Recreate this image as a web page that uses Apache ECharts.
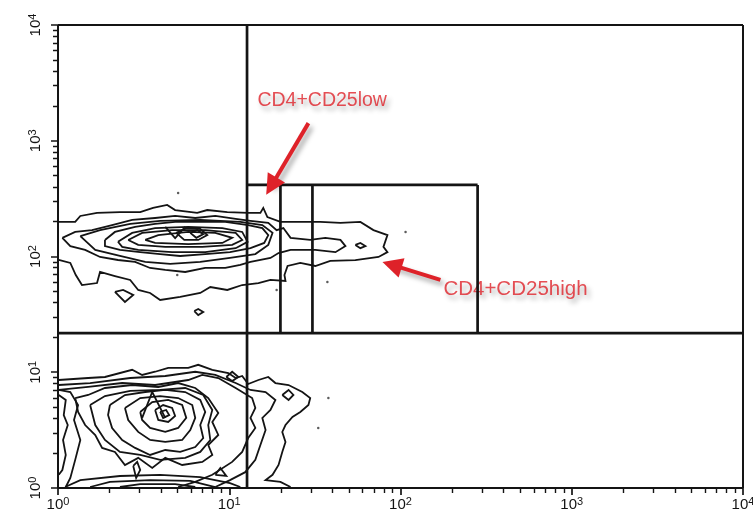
<!DOCTYPE html>
<html>
<head>
<meta charset="utf-8">
<script src="https://cdn.jsdelivr.net/npm/echarts@6/dist/echarts.min.js"></script>
<style>
  html, body { margin: 0; padding: 0; background: #ffffff; }
  #chart { width: 753px; height: 514px; background: #ffffff; }
</style>
</head>
<body>
<div id="chart"></div>
<script>
// Axis decades (log10 scale) and the exponents printed on them
const decadeTicks = [1, 10, 100, 1000, 10000];
const decadeExponents = ['0', '1', '2', '3', '4'];
const minorTicks = [2, 3, 4, 5, 6, 7, 8, 9, 20, 30, 40, 50, 60, 70, 80, 90,
  200, 300, 400, 500, 600, 700, 800, 900, 2000, 3000, 4000, 5000, 6000, 7000, 8000, 9000];

// Quadrant split and CD25 gates (x: CD25, y: CD4)
const quadX = 12.7;
const quadY = 21.8;
const gateTop = 415;
const lowGateRight = 19.9;
const highGateLeft = 30.6;
const highGateRight = 282;

// CD4+ population contours, outer level to inner level
const cd4Level1 = [[1.01,199],[1.26,199],[1.35,224],[1.69,238],[2.30,242],[3.02,242],[3.59,263],[4.34,279],[4.83,252],[6.50,238],[7.44,252],[9.74,242],[12.9,238],[15.2,238],[15.8,263],[16.7,219],[19.9,199],[26.0,199],[34.0,199],[44.6,195],[58.3,199],[69.5,169],[83.9,153],[79.5,121],[83.9,109],[74.4,99],[54.5,93],[38.9,91.5],[31.8,82.8],[26.0,87.9],[21.9,82.8],[21.0,69.2],[21.3,61.5],[17.4,62.7],[14.8,59],[11.9,56.7],[9.74,51.4],[7.75,54.5],[6.77,48.4],[5.17,44.7],[3.95,42.1],[3.45,48.4],[2.94,51.4],[2.64,62.7],[2.15,67.8],[1.76,73.5],[1.69,59],[1.38,56.7],[1.27,69.2],[1.18,87.9],[1.01,93.3]];
const cd4Level2 = [[1.06,145],[1.26,163],[1.58,169],[2.07,187],[2.71,207],[3.69,215],[4.83,224],[6.33,215],[8.29,224],[10.9,211],[13.3,203],[16.9,195],[18.9,169],[20.7,176],[22.8,145],[29.7,139],[36.4,145],[44.6,139],[47.7,123],[41.7,109],[31.8,114],[22.8,114],[19.4,107],[17.4,97.1],[13.3,89.7],[11.6,84.5],[9.48,79.6],[7.24,79.6],[5.53,73.5],[4.23,76.5],[3.45,79.6],[2.82,89.7],[2.24,93.3],[1.76,99],[1.44,114],[1.18,123],[1.06,145]];
const cd4Level2b = [[1.35,150],[1.76,169],[2.64,191],[3.95,203],[6.77,207],[11.6,199],[15.6,187],[17.9,160],[16.9,126],[14.2,105],[10.1,97.1],[6.77,89.7],[4.52,86.2],[3.23,89.7],[2.30,101],[1.65,114],[1.35,150]];
const cd4Level3 = [[1.88,139],[2.15,163],[2.82,180],[3.69,191],[4.83,199],[6.77,199],[9.48,199],[12.9,187],[15.6,176],[16.9,153],[16.0,131],[13.3,118],[10.1,109],[7.24,105],[5.17,101],[3.95,105],[3.02,109],[2.30,114],[1.88,123],[1.88,139]];
const cd4Level4 = [[2.24,134],[2.71,160],[3.69,176],[5.76,180],[9.11,176],[11.9,163],[12.8,134],[10.9,118],[7.24,109],[4.64,109],[2.94,114],[2.37,121],[2.24,134]];
const cd4Level5 = [[2.57,139],[3.10,160],[4.64,169],[7.24,169],[10.9,160],[11.9,139],[10.4,126],[6.96,121],[4.23,121],[2.94,126],[2.57,139]];
const cd4Level6 = [[3.23,139],[3.85,153],[5.76,163],[8.29,160],[10.4,145],[9.11,131],[5.76,128],[3.69,131],[3.23,139]];
const cd4Level7 = [[4.90,160],[5.61,176],[6.77,173],[7.44,153],[6.59,139],[5.46,139],[4.90,160]];
const cd4Level8 = [[5.92,160],[6.50,169],[7.05,156],[6.42,145],[5.92,160]];
const cd4Ridge = [[4.23,180],[4.83,144],[5.53,180]];
const cd4IslandA = [[2.15,49.4],[2.46,40.5],[2.75,46.5],[2.40,51.4],[2.15,49.4]];
const cd4IslandB = [[6.25,33.8],[6.59,35.2],[7.05,33.2],[6.59,31.2],[6.25,33.8]];
const cd4IslandC = [[54.5,126],[58.3,131],[62.4,123],[58.3,118],[54.5,126]];

// CD4- population contours, outer level to inner level
const negLevel1 = [[1.01,8.57],[1.50,8.92],[1.88,9.10],[2.71,10.5],[3.10,9.47],[3.69,10.1],[4.40,10.9],[5.76,10.9],[6.59,11.6],[7.96,10.5],[9.87,9.85],[10.9,8.92],[11.9,9.28],[12.9,7.91],[14.8,8.57],[16.9,9.10],[18.6,8.07],[22.2,7.76],[26.7,6.75],[29.7,5.99],[29.0,5.21],[26.0,4.54],[23.4,4.11],[21.3,3.50],[20.4,3.05],[21.3,2.50],[20.4,2.05],[19.4,1.58],[17.9,1.30],[16.3,1.17],[19.9,1.13],[22.8,1.02]];
const negLevel1b = [[1.01,7.76],[1.54,8.07],[2.64,8.92],[4.23,9.28],[6.33,10.1],[8.29,9.47],[10.9,8.07],[13.3,7.03],[16.3,6.75],[18.6,5.76],[17.4,4.72],[15.6,4.03],[16.3,3.17],[15.2,2.35],[14.2,1.75],[12.4,1.37],[10.1,1.17],[8.29,1.02]];
const negLevel2 = [[1.01,7.03],[1.50,7.46],[2.37,8.07],[3.69,7.76],[5.76,8.57],[6.96,9.47],[8.63,8.92],[10.9,7.31],[13.6,5.99],[14.2,4.91],[13.3,4.03],[14.2,3.30],[12.9,2.70],[11.9,2.05],[10.4,1.68],[7.96,1.30],[6.33,1.13],[5.03,1.02]];
const negLevel3 = [[1.26,5.99],[1.50,6.36],[1.88,7.31],[2.71,7.76],[3.85,7.46],[5.03,8.07],[6.33,7.31],[7.54,5.99],[8.63,4.45],[7.96,3.72],[8.63,2.87],[7.54,2.35],[7.96,1.93],[6.96,1.68],[5.31,1.58],[4.23,1.82],[3.55,1.49],[2.94,1.82],[2.46,1.58],[2.15,2.05],[1.81,2.22],[1.65,2.87],[1.44,3.50],[1.31,4.54],[1.26,5.99]];
const negLevel3b = [[1.54,5.21],[1.88,6.23],[2.64,6.89],[3.95,7.03],[5.53,7.31],[7.05,6.36],[7.96,4.72],[7.54,3.50],[7.75,2.60],[6.77,2.05],[5.53,1.82],[3.95,1.75],[3.02,1.93],[2.30,2.05],[1.88,2.60],[1.65,3.50],[1.54,5.21]];
const negLevel4 = [[2.01,5.21],[2.46,6.36],[3.23,6.75],[4.23,7.03],[5.53,6.75],[6.77,5.76],[7.24,4.54],[6.77,3.50],[7.05,2.70],[6.33,2.26],[5.17,2.05],[4.23,2.13],[3.45,1.93],[2.82,2.22],[2.37,2.60],[2.07,3.30],[1.96,4.27],[2.01,5.21]];
const negLevel5 = [[2.46,4.91],[3.02,5.99],[3.95,6.23],[5.03,5.99],[6.08,5.21],[6.33,4.03],[5.92,3.17],[5.31,2.60],[4.23,2.50],[3.45,2.60],[2.94,3.05],[2.57,3.87],[2.46,4.91]];
const negLevel6 = [[3.02,4.54],[3.55,5.53],[4.40,5.76],[5.31,5.21],[5.61,4.03],[5.03,3.30],[4.23,3.05],[3.45,3.30],[3.10,3.87],[3.02,4.54]];
const negLevel7 = [[3.69,4.72],[4.11,5.21],[4.64,4.91],[4.83,4.19],[4.40,3.72],[3.85,3.87],[3.69,4.72]];
const negLevel8 = [[3.95,4.54],[4.28,4.72],[4.46,4.27],[4.11,4.03],[3.95,4.54]];
const negRidge = [[3.10,4.03],[3.55,6.75],[4.23,4.03]];
const negAxisEdge = [[1.01,6.36],[1.11,5.76],[1.08,4.27],[1.14,3.50],[1.07,2.60],[1.11,1.93],[1.06,1.43],[1.01,1.30]];
const negAxisEdge2 = [[1.01,7.03],[1.18,6.75],[1.31,5.21],[1.24,3.87],[1.35,2.60],[1.26,1.75],[1.18,1.22],[1.11,1.02]];
const negFloor1 = [[1.10,1.02],[1.35,1.17],[2.30,1.27],[3.95,1.30],[6.77,1.24],[10.1,1.10],[11.6,1.02]];
const negFloor2 = [[1.54,1.02],[2.01,1.13],[3.45,1.17],[5.92,1.15],[8.29,1.02]];
const negFloor3 = [[2.30,1.02],[3.02,1.08],[4.83,1.08],[6.33,1.02]];
const negIslandA = [[9.61,9.10],[10.4,10.1],[11.3,9.10],[10.4,8.39],[9.61,9.10]];
const negIslandB = [[20.4,6.36],[22.2,7.03],[23.7,6.36],[22.2,5.76],[20.4,6.36]];
const negIslandC = [[8.29,1.30],[8.87,1.49],[9.61,1.27],[8.29,1.30]];
const negIslandD = [[2.75,1.55],[2.90,1.68],[3.02,1.43],[2.86,1.22],[2.75,1.55]];

// Single isolated events
const sparseEvents = [[5.03,354],[107,163],[37.4,60.3],[18.9,51.4],[4.97,69.2],[37.9,5.99],[33.1,3.30]];

// Gate annotations: label anchor, arrow tail and arrow head
const gateNames = ['CD4+CD25low', 'CD4+CD25high'];
const labelAnchors = [[14.6, 2205], [178, 52.4]];
const labelSizes = [19.5, 20.5];
const arrowTails = [[29.0, 1420], [171, 62.7]];
const arrowHeads = [[17.6, 406], [89.2, 84.5]];

const contours = [
  cd4Level1, cd4Level2, cd4Level2b, cd4Level3, cd4Level4, cd4Level5, cd4Level6, cd4Level7, cd4Level8,
  cd4Ridge, cd4IslandA, cd4IslandB, cd4IslandC,
  negLevel1, negLevel1b, negLevel2, negLevel3, negLevel3b, negLevel4, negLevel5, negLevel6, negLevel7, negLevel8,
  negRidge, negAxisEdge, negAxisEdge2, negFloor1, negFloor2, negFloor3,
  negIslandA, negIslandB, negIslandC, negIslandD
];

const gateLines = [
  [[quadX, 1], [quadX, 10000]],
  [[1, quadY], [10000, quadY]],
  [[quadX, gateTop], [highGateRight, gateTop]],
  [[lowGateRight, quadY], [lowGateRight, gateTop]],
  [[highGateLeft, quadY], [highGateLeft, gateTop]],
  [[highGateRight, quadY], [highGateRight, gateTop]]
];

// The grid reaches a few pixels past the 10^0..10^4 plot box so the outward
// tick marks stay inside the drawable area; the box itself is drawn as a frame.
const AXIS_X_RANGE = [0.8979, 10273];
const AXIS_Y_RANGE = [0.8528, 10406];
const TICK_END_BELOW = { major: 0.870, minor: 0.905 };
const TICK_END_LEFT = { major: 0.910, minor: 0.935 };

const lo = decadeTicks[0];
const hi = decadeTicks[decadeTicks.length - 1];
const frameLines = [
  [[lo, lo], [lo, hi]],
  [[lo, lo], [hi, lo]],
  [[lo, hi], [hi, hi]],
  [[hi, lo], [hi, hi]]
];
const majorTickSegs = [];
const minorTickSegs = [];
decadeTicks.forEach(v => {
  majorTickSegs.push([[v, lo], [v, TICK_END_BELOW.major]]);
  majorTickSegs.push([[lo, v], [TICK_END_LEFT.major, v]]);
});
minorTicks.forEach(v => {
  minorTickSegs.push([[v, lo], [v, TICK_END_BELOW.minor]]);
  minorTickSegs.push([[lo, v], [TICK_END_LEFT.minor, v]]);
});

const INK = '#141414';
const RED = '#de2229';
const FONT = '"Liberation Sans", Arial, Helvetica, sans-serif';

function decadeLabel(value) {
  const e = Math.log10(value);
  const idx = Math.round(e);
  if (Math.abs(e - idx) > 1e-6 || idx < 0 || idx >= decadeExponents.length) return '';
  return '{b|10}{s|' + decadeExponents[idx] + '}';
}
const decadeRich = {
  b: { fontSize: 15, fontFamily: FONT, color: INK, lineHeight: 16, padding: [7, 0, 0, 0], verticalAlign: 'bottom' },
  s: { fontSize: 11, fontFamily: FONT, color: INK, lineHeight: 12, verticalAlign: 'top' }
};

const chart = echarts.init(document.getElementById('chart'), null, { renderer: 'canvas' });
chart.setOption({
  animation: false,
  grid: {
    left: 50, top: 23, width: 695, height: 473,
    containLabel: false, outerBoundsMode: 'none',
    show: false
  },
  xAxis: {
    type: 'log', min: AXIS_X_RANGE[0], max: AXIS_X_RANGE[1],
    axisLine: { show: false },
    axisTick: { show: false },
    splitLine: { show: false },
    axisLabel: {
      show: true, margin: 0, color: INK, hideOverlap: false,
      formatter: decadeLabel, rich: decadeRich
    }
  },
  yAxis: {
    type: 'log', min: AXIS_Y_RANGE[0], max: AXIS_Y_RANGE[1],
    axisLine: { show: false },
    axisTick: { show: false },
    splitLine: { show: false },
    axisLabel: {
      show: true, margin: 7, rotate: 90, color: INK, hideOverlap: false,
      formatter: decadeLabel, rich: decadeRich
    }
  },
  series: [
    {
      name: 'gate labels', type: 'scatter', z: 1, silent: true,
      symbolSize: 0,
      data: gateNames.map((n, i) => ({
        name: n, value: labelAnchors[i], label: { fontSize: labelSizes[i] }
      })),
      label: {
        show: true, position: 'right', distance: 0, formatter: '{b}',
        color: RED, fontFamily: FONT,
        textShadowColor: 'rgba(0,0,0,0.38)', textShadowBlur: 5,
        textShadowOffsetX: 3, textShadowOffsetY: 4
      },
      labelLayout: { hideOverlap: false }
    },
    {
      name: 'contours', type: 'lines', coordinateSystem: 'cartesian2d', polyline: true,
      z: 3, silent: true,
      lineStyle: { color: INK, width: 1.8, opacity: 1 },
      data: contours.map(c => ({ coords: c }))
    },
    {
      name: 'events', type: 'scatter', z: 3, silent: true,
      symbol: 'circle', symbolSize: 2.5,
      itemStyle: { color: '#333333' },
      data: sparseEvents
    },
    {
      name: 'frame', type: 'lines', coordinateSystem: 'cartesian2d', polyline: true,
      z: 4, silent: true,
      lineStyle: { color: INK, width: 2, opacity: 1 },
      data: frameLines.map(f => ({ coords: f }))
    },
    {
      name: 'major ticks', type: 'lines', coordinateSystem: 'cartesian2d',
      z: 4, silent: true,
      lineStyle: { color: INK, width: 1.7, opacity: 1 },
      data: majorTickSegs.map(s => ({ coords: s }))
    },
    {
      name: 'minor ticks', type: 'lines', coordinateSystem: 'cartesian2d',
      z: 4, silent: true,
      lineStyle: { color: INK, width: 1.4, opacity: 1 },
      data: minorTickSegs.map(s => ({ coords: s }))
    },
    {
      name: 'gates', type: 'lines', coordinateSystem: 'cartesian2d', polyline: true,
      z: 5, silent: true,
      lineStyle: { color: INK, width: 2.7, opacity: 1 },
      data: gateLines.map(g => ({ coords: g }))
    },
    {
      name: 'arrows', type: 'lines', coordinateSystem: 'cartesian2d',
      z: 6, silent: true,
      symbol: ['none', 'triangle'], symbolSize: 20,
      lineStyle: {
        color: RED, width: 4, opacity: 1,
        shadowColor: 'rgba(0,0,0,0.35)', shadowBlur: 5, shadowOffsetX: 3, shadowOffsetY: 4
      },
      itemStyle: { color: RED },
      data: arrowTails.map((t, i) => ({ coords: [t, arrowHeads[i]] }))
    }
  ]
});
</script>
</body>
</html>
